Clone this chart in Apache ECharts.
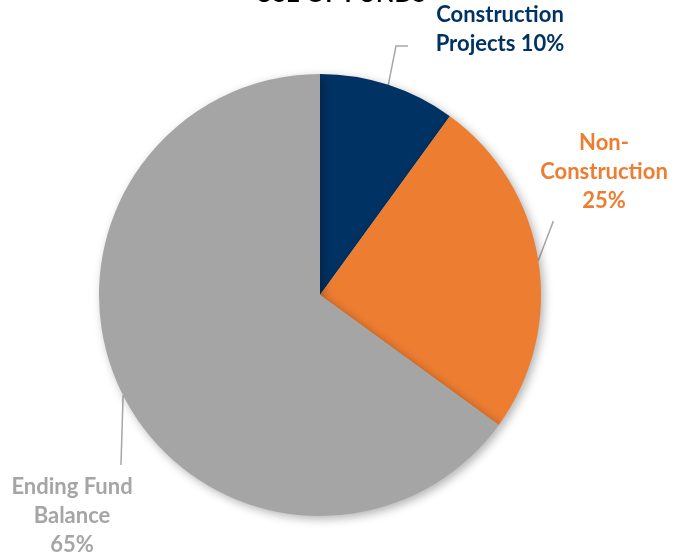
<!DOCTYPE html>
<html>
<head>
<meta charset="utf-8">
<script src="https://cdn.jsdelivr.net/npm/echarts@6/dist/echarts.min.js"></script>
<style>
html,body{margin:0;padding:0;background:#fff;}
#chart{width:681px;height:560px;}
</style>
</head>
<body>
<div id="chart"></div>
<script>
const titleText = 'USE OF FUNDS';
const categories = ['Construction Projects', 'Non-Construction', 'Ending Fund Balance'];
const values = [10, 25, 65];
const labelTexts = ['Construction\nProjects 10%', 'Non-\nConstruction\n25%', 'Ending Fund\nBalance\n65%'];
const colors = ['#003263', '#ED7D31', '#A5A5A5'];

// label box placement (style only)
const labelBoxes = [
  {x: 500, y: 0, width: 184, padding: [0, 0, 34, 0], len2: 12},
  {x: 553, y: 128.5, width: 130, padding: [0, 0, 5.5, 102], len2: 1},
  {x: 121, y: 465, width: 130, padding: [7, 98, 0, 0], len2: 1}
];

const chart = echarts.init(document.getElementById('chart'));
chart.setOption({
  backgroundColor: '#fff',
  animation: false,
  title: {
    text: titleText,
    left: 'center',
    top: -23,
    textStyle: {fontFamily: 'Lato', fontWeight: 'bold', fontSize: 24, color: '#000'}
  },
  series: [{
    type: 'pie',
    center: [320, 295],
    radius: 221,
    startAngle: 90,
    clockwise: true,
    data: categories.map((c, i) => ({
      name: c,
      value: values[i],
      itemStyle: {color: colors[i]},
      label: {
        color: colors[i],
        formatter: labelTexts[i],
        width: labelBoxes[i].width,
        padding: labelBoxes[i].padding
      },
      labelLine: {length2: labelBoxes[i].len2}
    })),
    itemStyle: {
      shadowBlur: 10,
      shadowOffsetX: 3,
      shadowOffsetY: 3,
      shadowColor: 'rgba(0,0,0,0.3)'
    },
    label: {
      show: true,
      fontFamily: 'Lato',
      fontWeight: 'bold',
      fontSize: 22,
      lineHeight: 29,
      align: 'center',
      overflow: 'none'
    },
    labelLine: {
      show: true,
      length: 30,
      lineStyle: {color: '#A6A6A6', width: 1.5}
    },
    labelLayout: function (params) {
      const b = labelBoxes[params.dataIndex];
      return {x: b.x, y: b.y, align: 'center', verticalAlign: 'top'};
    }
  }]
});
</script>
</body>
</html>
